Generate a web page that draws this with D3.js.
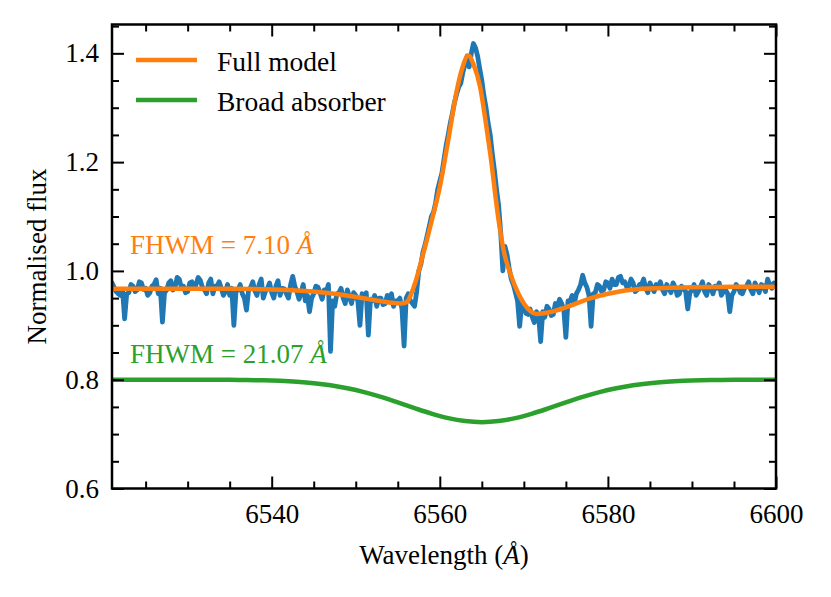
<!DOCTYPE html>
<html>
<head>
<meta charset="utf-8">
<script src="https://cdn.jsdelivr.net/npm/d3@7"></script>
<style>
  body { margin: 0; background: #fff; }
  text { font-family: "Liberation Serif", "Times New Roman", "DejaVu Serif", serif; }
</style>
</head>
<body>
<svg id="chart"></svg>
<script>
// observed spectrum: regular wavelength grid (start + step), flux read off the figure
// one row per Angstrom, starting at 6521
const specStart = 6521.0, specStep = 0.25;
const specFlux = [
  0.978, 0.970, 0.962, 0.958,
  0.955, 0.966, 0.912, 0.958,
  0.960, 0.975, 0.972, 0.962,
  0.965, 0.980, 0.978, 0.966,
  0.968, 0.955, 0.960, 0.972,
  0.975, 0.984, 0.958, 0.968,
  0.906, 0.960, 0.965, 0.978,
  0.982, 0.965, 0.970, 0.988,
  0.985, 0.970, 0.972, 0.960,
  0.962, 0.978, 0.980, 0.968,
  0.975, 0.988, 0.983, 0.970,
  0.965, 0.958, 0.978, 0.985,
  0.958, 0.972, 0.972, 0.980,
  0.968, 0.955, 0.962, 0.975,
  0.955, 0.968, 0.900, 0.962,
  0.965, 0.975, 0.958, 0.950,
  0.928, 0.965, 0.970, 0.980,
  0.963, 0.955, 0.975, 0.985,
  0.950, 0.962, 0.968, 0.978,
  0.960, 0.950, 0.972, 0.982,
  0.955, 0.968, 0.967, 0.958,
  0.950, 0.975, 0.990, 0.972,
  0.962, 0.948, 0.960, 0.975,
  0.945, 0.955, 0.925, 0.950,
  0.958, 0.972, 0.970, 0.960,
  0.948, 0.965, 0.962, 0.975,
  0.852, 0.945, 0.935, 0.958,
  0.960, 0.968, 0.950, 0.940,
  0.965, 0.952, 0.940, 0.960,
  0.955, 0.945, 0.900, 0.958,
  0.950, 0.960, 0.882, 0.948,
  0.945, 0.955, 0.935, 0.950,
  0.950, 0.938, 0.940, 0.955,
  0.948, 0.958, 0.935, 0.945,
  0.945, 0.950, 0.930, 0.862,
  0.950, 0.958, 0.945, 0.940,
  0.935, 0.962, 1.000, 1.012,
  1.035, 1.048, 1.065, 1.082,
  1.100, 1.108, 1.125, 1.150,
  1.165, 1.180, 1.205, 1.230,
  1.250, 1.272, 1.290, 1.310,
  1.325, 1.338, 1.345, 1.365,
  1.380, 1.395, 1.375, 1.400,
  1.418, 1.410, 1.395, 1.372,
  1.350, 1.322, 1.300, 1.272,
  1.250, 1.215, 1.185, 1.150,
  1.120, 1.070, 1.000, 1.045,
  1.030, 1.005, 0.985, 0.975,
  0.960, 0.945, 0.898, 0.940,
  0.935, 0.922, 0.920, 0.930,
  0.915, 0.905, 0.925, 0.918,
  0.870, 0.925, 0.915, 0.935,
  0.930, 0.918, 0.920, 0.940,
  0.935, 0.948, 0.940, 0.930,
  0.878, 0.945, 0.945, 0.955,
  0.940, 0.958, 0.965, 0.975,
  0.992, 0.978, 0.970, 0.955,
  0.898, 0.958, 0.960, 0.975,
  0.972, 0.962, 0.965, 0.980,
  0.978, 0.968, 0.985, 0.975,
  0.975, 0.988, 0.990, 0.978,
  0.980, 0.970, 0.972, 0.985,
  0.978, 0.962, 0.965, 0.975,
  0.975, 0.985, 0.968, 0.960,
  0.978, 0.970, 0.962, 0.975,
  0.972, 0.980, 0.965, 0.958,
  0.975, 0.968, 0.960, 0.978,
  0.970, 0.955, 0.958, 0.972,
  0.968, 0.962, 0.930, 0.960,
  0.965, 0.975, 0.955, 0.962,
  0.970, 0.980, 0.962, 0.955,
  0.975, 0.968, 0.958, 0.972,
  0.968, 0.978, 0.955, 0.962,
  0.965, 0.958, 0.925, 0.955,
  0.962, 0.975, 0.970, 0.960,
  0.958, 0.968, 0.972, 0.980,
  0.965, 0.958, 0.978, 0.970,
  0.960, 0.975, 0.972, 0.962,
  0.985, 0.975, 0.968, 0.978,
  0.975
];

// full model (emission + broad absorber)
const modelWave = [6521, 6525, 6530, 6535, 6540, 6544, 6547, 6550, 6552, 6554,
  6555.3, 6556, 6557, 6558, 6559, 6560, 6561, 6562, 6562.6, 6563.4,
  6564, 6564.8, 6565.5, 6566, 6567, 6567.7, 6568.4, 6569, 6570, 6571.5,
  6573, 6575, 6578, 6580, 6584, 6590, 6595, 6600];
const modelFlux = [0.967, 0.967, 0.967, 0.967, 0.966, 0.963, 0.959, 0.952, 0.947, 0.942,
  0.940, 0.942, 0.975, 1.030, 1.090, 1.154, 1.240, 1.330, 1.369, 1.396,
  1.380, 1.338, 1.270, 1.216, 1.093, 1.030, 0.995, 0.970, 0.940, 0.921,
  0.924, 0.933, 0.950, 0.958, 0.967, 0.970, 0.971, 0.971];

// broad absorber (offset to 0.8)
const absWave = [6521, 6530, 6535, 6537, 6539, 6541, 6543, 6545, 6547, 6549,
  6551, 6553, 6555, 6557, 6559, 6561, 6563, 6565, 6567, 6569,
  6571, 6573, 6575, 6577, 6579, 6581, 6583, 6585, 6587, 6589,
  6591, 6593, 6595, 6600];
const absFlux = [0.800, 0.800, 0.7997, 0.7994, 0.7989, 0.7979, 0.7962, 0.7936, 0.7897, 0.7842,
  0.7771, 0.7683, 0.7582, 0.7477, 0.7377, 0.7294, 0.724, 0.722, 0.724, 0.7294,
  0.7377, 0.7477, 0.7582, 0.7683, 0.7771, 0.7842, 0.7897, 0.7936, 0.7962, 0.7979,
  0.7989, 0.7994, 0.7997, 0.800];

const xMajor = [6540, 6560, 6580, 6600];
const xMinor = [6525, 6530, 6535, 6545, 6550, 6555, 6565, 6570, 6575, 6585, 6590, 6595];
const yMajor = [0.6, 0.8, 1.0, 1.2, 1.4];
const yMinor = [0.65, 0.7, 0.75, 0.85, 0.9, 0.95, 1.05, 1.1, 1.15, 1.25, 1.3, 1.35, 1.45];

const W = 831, H = 597;
const margin = { top: 24.5, right: 55, bottom: 108.5, left: 112 },
    width = W - margin.left - margin.right,
    height = H - margin.top - margin.bottom;

const blue = "#1f77b4", orange = "#ff7f0e", green = "#2ca02c";
const serif = '"Liberation Serif", "Times New Roman", "DejaVu Serif", serif';

const svg = d3.select("#chart")
    .attr("width", W)
    .attr("height", H);

const g = svg.append("g")
    .attr("transform", `translate(${margin.left}, ${margin.top})`);

const x = d3.scaleLinear().domain([6521, 6600]).range([0, width]);
const y = d3.scaleLinear().domain([0.6, 1.453]).range([height, 0]);

g.append("clipPath").attr("id", "clip")
  .append("rect").attr("width", width).attr("height", height);

const spec = specFlux.map((f, i) => ({ w: specStart + i * specStep, f: f }));
const model = modelWave.map((w, i) => ({ w: w, f: modelFlux[i] }));
const absorber = absWave.map((w, i) => ({ w: w, f: absFlux[i] }));

const plot = g.append("g").attr("clip-path", "url(#clip)");

// spectrum
plot.append("path")
  .datum(spec)
  .attr("d", d3.line().x(d => x(d.w)).y(d => y(d.f)))
  .attr("fill", "none")
  .attr("stroke", blue)
  .attr("stroke-width", 4.8)
  .attr("stroke-linejoin", "round")
  .attr("stroke-linecap", "round");

// full model on top
plot.append("path")
  .datum(model)
  .attr("d", d3.line().curve(d3.curveMonotoneX).x(d => x(d.w)).y(d => y(d.f)))
  .attr("fill", "none")
  .attr("stroke", orange)
  .attr("stroke-width", 4.5);

plot.append("path")
  .datum(absorber)
  .attr("d", d3.line().curve(d3.curveMonotoneX).x(d => x(d.w)).y(d => y(d.f)))
  .attr("fill", "none")
  .attr("stroke", green)
  .attr("stroke-width", 4.5);

// axes, ticks pointing inward on all four sides
const fontSize = 27;
function styleAxis(sel) {
  sel.attr("font-family", serif);
  sel.select(".domain").remove();
  sel.selectAll(".tick line").attr("stroke", "#000").attr("stroke-width", 2);
  sel.selectAll(".tick text").attr("fill", "#000")
    .style("font-family", serif).style("font-size", fontSize + "px");
}

g.append("g").attr("transform", `translate(0,${height})`)
  .call(d3.axisBottom(x).tickValues(xMajor).tickSize(-12).tickPadding(15).tickFormat(d3.format("d")))
  .call(styleAxis);
g.append("g").attr("transform", `translate(0,${height})`)
  .call(d3.axisBottom(x).tickValues(xMinor).tickSize(-7).tickFormat(""))
  .call(styleAxis);
g.append("g")
  .call(d3.axisTop(x).tickValues(xMajor).tickSize(-12).tickFormat(""))
  .call(styleAxis);
g.append("g")
  .call(d3.axisTop(x).tickValues(xMinor).tickSize(-7).tickFormat(""))
  .call(styleAxis);

g.append("g")
  .call(d3.axisLeft(y).tickValues(yMajor).tickSize(-12).tickPadding(13).tickFormat(d3.format(".1f")))
  .call(styleAxis);
g.append("g")
  .call(d3.axisLeft(y).tickValues(yMinor).tickSize(-7).tickFormat(""))
  .call(styleAxis);
g.append("g").attr("transform", `translate(${width},0)`)
  .call(d3.axisRight(y).tickValues(yMajor).tickSize(-12).tickFormat(""))
  .call(styleAxis);
g.append("g").attr("transform", `translate(${width},0)`)
  .call(d3.axisRight(y).tickValues(yMinor).tickSize(-7).tickFormat(""))
  .call(styleAxis);

// frame
g.append("rect")
  .attr("width", width)
  .attr("height", height)
  .attr("fill", "none")
  .attr("stroke", "#000")
  .attr("stroke-width", 2.5);

// axis labels
const xl = svg.append("text")
  .attr("x", margin.left + width / 2)
  .attr("y", 564)
  .attr("text-anchor", "middle")
  .style("font-size", fontSize + "px");
xl.append("tspan").text("Wavelength (");
xl.append("tspan").attr("font-style", "italic").text("Å");
xl.append("tspan").text(")");

svg.append("text")
  .attr("transform", `translate(46, ${margin.top + height / 2}) rotate(-90)`)
  .attr("text-anchor", "middle")
  .style("font-size", fontSize + "px")
  .text("Normalised flux");

// legend
const legend = [
  { label: "Full model", color: orange },
  { label: "Broad absorber", color: green }
];
legend.forEach((d, i) => {
  const ly = 60 + i * 40;
  svg.append("line")
    .attr("x1", 136).attr("x2", 197)
    .attr("y1", ly).attr("y2", ly)
    .attr("stroke", d.color)
    .attr("stroke-width", 4.5);
  svg.append("text")
    .attr("x", 217)
    .attr("y", ly + 11)
    .style("font-size", "27.5px")
    .text(d.label);
});

// FWHM annotations
const notes = [
  { text: "FHWM = 7.10 ", y: 254, color: orange },
  { text: "FHWM = 21.07 ", y: 363, color: green }
];
notes.forEach(d => {
  const t = svg.append("text")
    .attr("x", 130)
    .attr("y", d.y)
    .attr("fill", d.color)
    .style("font-size", fontSize + "px");
  t.append("tspan").text(d.text);
  t.append("tspan").attr("font-style", "italic").text("Å");
});
</script>
</body>
</html>
